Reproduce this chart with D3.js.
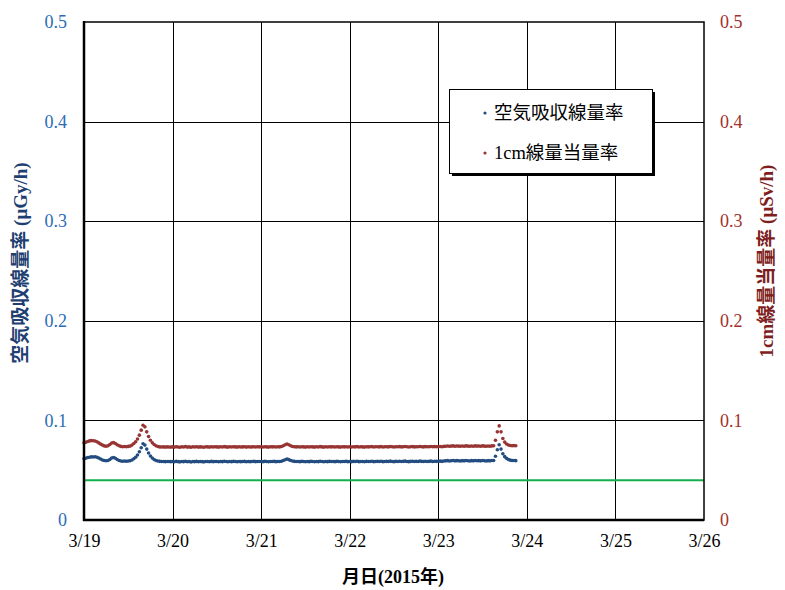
<!DOCTYPE html>
<html>
<head>
<meta charset="utf-8">
<script src="https://cdn.jsdelivr.net/npm/d3@7"></script>
<style>
  html, body { margin: 0; padding: 0; background: #fff; }
  svg { display: block; }
</style>
</head>
<body>
<svg id="chart" width="785" height="590"></svg>
<script>
// ---------- DATA ----------
const seriesNames = ["空気吸収線量率", "1cm線量当量率"];
const startTime = "2015-03-19T00:00:00";
const stepMinutes = 30;

// 空気吸収線量率 (μGy/h), every 30 minutes from 3/19 00:00 to 3/23 21:00
const airDoseRate = [
  // 3/19
  0.0615,0.0620,0.0628,0.0630,0.0634,0.0632,0.0635,0.0630,0.0622,0.0612,0.0603,0.0597,
  0.0595,0.0598,0.0608,0.0622,0.0628,0.0620,0.0608,0.0598,0.0592,0.0590,0.0592,0.0590,
  0.0593,0.0595,0.0602,0.0615,0.0630,0.0652,0.0685,0.0725,0.0765,0.0752,0.0712,0.0672,
  0.0642,0.0622,0.0608,0.0598,0.0592,0.0589,0.0587,0.0588,0.0586,0.0588,0.0587,0.0586,
  // 3/20
  0.0587,0.0585,0.0589,0.0586,0.0584,0.0588,0.0586,0.0590,0.0585,0.0587,0.0583,0.0588,
  0.0586,0.0589,0.0585,0.0587,0.0586,0.0584,0.0588,0.0587,0.0585,0.0589,0.0586,0.0588,
  0.0587,0.0585,0.0588,0.0586,0.0590,0.0587,0.0585,0.0588,0.0586,0.0589,0.0587,0.0585,
  0.0588,0.0586,0.0587,0.0589,0.0585,0.0588,0.0586,0.0587,0.0589,0.0586,0.0588,0.0587,
  // 3/21
  0.0588,0.0586,0.0589,0.0587,0.0585,0.0588,0.0587,0.0589,0.0586,0.0588,0.0587,0.0590,
  0.0597,0.0605,0.0612,0.0606,0.0598,0.0592,0.0589,0.0587,0.0588,0.0586,0.0589,0.0587,
  0.0585,0.0588,0.0586,0.0589,0.0587,0.0585,0.0588,0.0586,0.0590,0.0587,0.0585,0.0588,
  0.0586,0.0589,0.0587,0.0588,0.0586,0.0589,0.0587,0.0585,0.0588,0.0587,0.0589,0.0586,
  // 3/22
  0.0588,0.0586,0.0589,0.0587,0.0590,0.0586,0.0588,0.0587,0.0585,0.0589,0.0587,0.0588,
  0.0590,0.0586,0.0588,0.0589,0.0587,0.0590,0.0586,0.0588,0.0589,0.0587,0.0591,0.0588,
  0.0586,0.0589,0.0588,0.0590,0.0587,0.0589,0.0591,0.0588,0.0586,0.0589,0.0590,0.0587,
  0.0589,0.0588,0.0591,0.0589,0.0587,0.0590,0.0588,0.0589,0.0591,0.0588,0.0590,0.0589,
  // 3/23
  0.0590,0.0591,0.0589,0.0592,0.0594,0.0596,0.0593,0.0595,0.0597,0.0594,0.0596,0.0595,
  0.0593,0.0596,0.0594,0.0597,0.0595,0.0593,0.0596,0.0594,0.0597,0.0595,0.0596,0.0594,
  0.0597,0.0595,0.0593,0.0596,0.0594,0.0597,0.0598,0.0640,0.0705,0.0755,0.0712,0.0665,
  0.0636,0.0619,0.0607,0.0601,0.0598,0.0597,0.0596
];

// 1cm線量当量率 (μSv/h), same times
const doseEquivRate = [
  // 3/19
  0.0776,0.0780,0.0788,0.0794,0.0797,0.0795,0.0793,0.0785,0.0774,0.0762,0.0752,0.0744,
  0.0740,0.0745,0.0758,0.0772,0.0777,0.0768,0.0755,0.0745,0.0739,0.0736,0.0738,0.0736,
  0.0739,0.0742,0.0752,0.0768,0.0786,0.0814,0.0852,0.0902,0.0952,0.0935,0.0885,0.0838,
  0.0801,0.0776,0.0758,0.0746,0.0738,0.0734,0.0733,0.0734,0.0732,0.0734,0.0733,0.0732,
  // 3/20
  0.0734,0.0732,0.0736,0.0733,0.0731,0.0735,0.0733,0.0737,0.0732,0.0734,0.0730,0.0735,
  0.0733,0.0736,0.0732,0.0734,0.0733,0.0731,0.0735,0.0734,0.0732,0.0736,0.0733,0.0735,
  0.0734,0.0732,0.0735,0.0733,0.0737,0.0734,0.0732,0.0735,0.0733,0.0736,0.0734,0.0732,
  0.0735,0.0733,0.0734,0.0736,0.0732,0.0735,0.0733,0.0734,0.0736,0.0733,0.0735,0.0734,
  // 3/21
  0.0735,0.0733,0.0736,0.0734,0.0732,0.0735,0.0734,0.0736,0.0733,0.0735,0.0734,0.0738,
  0.0745,0.0755,0.0763,0.0755,0.0745,0.0738,0.0736,0.0734,0.0735,0.0733,0.0736,0.0734,
  0.0732,0.0735,0.0733,0.0736,0.0734,0.0732,0.0735,0.0733,0.0737,0.0734,0.0732,0.0735,
  0.0733,0.0736,0.0734,0.0735,0.0733,0.0736,0.0734,0.0732,0.0735,0.0734,0.0736,0.0733,
  // 3/22
  0.0735,0.0733,0.0736,0.0734,0.0737,0.0733,0.0735,0.0734,0.0732,0.0736,0.0734,0.0735,
  0.0737,0.0733,0.0735,0.0736,0.0734,0.0737,0.0733,0.0735,0.0736,0.0734,0.0738,0.0735,
  0.0733,0.0736,0.0735,0.0737,0.0734,0.0736,0.0738,0.0735,0.0733,0.0736,0.0737,0.0734,
  0.0736,0.0735,0.0738,0.0736,0.0734,0.0737,0.0735,0.0736,0.0738,0.0735,0.0737,0.0736,
  // 3/23
  0.0737,0.0738,0.0736,0.0739,0.0741,0.0743,0.0740,0.0742,0.0744,0.0741,0.0743,0.0742,
  0.0740,0.0743,0.0741,0.0744,0.0742,0.0740,0.0743,0.0741,0.0744,0.0742,0.0743,0.0741,
  0.0744,0.0742,0.0740,0.0743,0.0741,0.0744,0.0745,0.0800,0.0885,0.0945,0.0885,0.0818,
  0.0782,0.0763,0.0753,0.0748,0.0746,0.0747,0.0746
];

// green reference line
const refLineDates = ["2015-03-19T00:00:00", "2015-03-26T00:00:00"];
const refLineValues = [0.04, 0.04];

const xTickDates = ["2015-03-19","2015-03-20","2015-03-21","2015-03-22","2015-03-23","2015-03-24","2015-03-25","2015-03-26"];
const yTickValues = [0, 0.1, 0.2, 0.3, 0.4, 0.5];
const leftAxisTitle = "空気吸収線量率 (μGy/h)";
const rightAxisTitle = "1cm線量当量率 (μSv/h)";
const xAxisTitle = "月日(2015年)";

// ---------- CHART ----------
const FONT = "'Liberation Serif', 'Times New Roman', 'DejaVu Serif', 'Noto Sans CJK JP', serif";
const svg = d3.select("#chart");
const plot = { left: 84, right: 704, top: 22, bottom: 520 };

const parseT = d3.isoParse;
const t0 = parseT(startTime);
const timeAt = i => new Date(t0.getTime() + i * stepMinutes * 60000);

const x = d3.scaleTime()
  .domain([parseT(xTickDates[0] + "T00:00:00"), parseT(xTickDates[xTickDates.length - 1] + "T00:00:00")])
  .range([plot.left, plot.right]);
const yL = d3.scaleLinear().domain([0, 0.5]).range([plot.bottom, plot.top]);
const yR = d3.scaleLinear().domain([0, 0.5]).range([plot.bottom, plot.top]);

const colors = {
  blue: "#234D80",
  red: "#973533",
  green: "#12B04C",
  leftTick: "#2B6CB5",
  leftTitle: "#1F3F72",
  rightTick: "#A3312B",
  rightTitle: "#7E1E1E"
};

// grid lines
const grid = svg.append("g");
grid.selectAll("line.h").data(yTickValues.slice(1, -1)).join("line")
  .attr("x1", plot.left).attr("x2", plot.right)
  .attr("y1", d => Math.round(yL(d)) + 0.5).attr("y2", d => Math.round(yL(d)) + 0.5)
  .attr("stroke", "#000").attr("stroke-width", 1);
grid.selectAll("line.v").data(xTickDates.slice(1, -1)).join("line")
  .attr("x1", d => Math.round(x(parseT(d + "T00:00:00"))) + 0.5)
  .attr("x2", d => Math.round(x(parseT(d + "T00:00:00"))) + 0.5)
  .attr("y1", plot.top).attr("y2", plot.bottom)
  .attr("stroke", "#000").attr("stroke-width", 1);

// reference green line
const refData = refLineDates.map((d, i) => ({ t: parseT(d), v: refLineValues[i] }));
svg.append("path")
  .datum(refData)
  .attr("d", d3.line().x(d => x(d.t)).y(d => yL(d.v)))
  .attr("stroke", colors.green).attr("stroke-width", 2).attr("fill", "none");

// series points
const blueData = airDoseRate.map((v, i) => ({ t: timeAt(i), v }));
const redData = doseEquivRate.map((v, i) => ({ t: timeAt(i), v }));

svg.append("g").selectAll("circle").data(redData).join("circle")
  .attr("cx", d => x(d.t)).attr("cy", d => yR(d.v)).attr("r", 1.8)
  .attr("fill", colors.red);
svg.append("g").selectAll("circle").data(blueData).join("circle")
  .attr("cx", d => x(d.t)).attr("cy", d => yL(d.v)).attr("r", 1.8)
  .attr("fill", colors.blue);

// frame
svg.append("rect")
  .attr("x", plot.left).attr("y", plot.top)
  .attr("width", plot.right - plot.left).attr("height", plot.bottom - plot.top)
  .attr("fill", "none").attr("stroke", "#000").attr("stroke-width", 1.5);
svg.append("line").attr("x1", plot.left).attr("x2", plot.left)
  .attr("y1", plot.top - 1).attr("y2", plot.bottom + 1)
  .attr("stroke", "#000").attr("stroke-width", 2.5);
svg.append("line").attr("x1", plot.left - 1).attr("x2", plot.right)
  .attr("y1", plot.bottom).attr("y2", plot.bottom)
  .attr("stroke", "#000").attr("stroke-width", 2.5);

// axes (labels only, no tick marks)
const fmtY = d => d === 0 ? "0" : d3.format(".1f")(d);
const axL = svg.append("g").attr("transform", `translate(${plot.left},0)`)
  .call(d3.axisLeft(yL).tickValues(yTickValues).tickFormat(fmtY).tickSize(0).tickPadding(17));
axL.select(".domain").remove();
axL.selectAll("text").style("font-size", "18px").style("font-family", FONT).attr("fill", colors.leftTick);

const axR = svg.append("g").attr("transform", `translate(${plot.right},0)`)
  .call(d3.axisRight(yR).tickValues(yTickValues).tickFormat(fmtY).tickSize(0).tickPadding(16));
axR.select(".domain").remove();
axR.selectAll("text").style("font-size", "18px").style("font-family", FONT).attr("fill", colors.rightTick);

const fmtX = d3.timeFormat("%-m/%-d");
const axB = svg.append("g").attr("transform", `translate(0,${plot.bottom})`)
  .call(d3.axisBottom(x).tickValues(xTickDates.map(d => parseT(d + "T00:00:00"))).tickFormat(fmtX).tickSize(0).tickPadding(14));
axB.select(".domain").remove();
axB.selectAll("text").style("font-size", "18px").style("font-family", FONT).attr("fill", "#000");

// axis titles
svg.append("text")
  .attr("transform", "translate(27,263) rotate(-90)")
  .attr("text-anchor", "middle")
  .style("font-family", FONT).style("font-size", "19px").style("font-weight", "bold")
  .attr("fill", colors.leftTitle)
  .text(leftAxisTitle);

svg.append("text")
  .attr("transform", "translate(773,261) rotate(-90)")
  .attr("text-anchor", "middle")
  .style("font-family", FONT).style("font-size", "19px").style("font-weight", "bold")
  .attr("fill", colors.rightTitle)
  .text(rightAxisTitle);

svg.append("text")
  .attr("x", 393).attr("y", 583)
  .attr("text-anchor", "middle")
  .style("font-family", FONT).style("font-size", "18px").style("font-weight", "bold")
  .attr("fill", "#000")
  .text(xAxisTitle);

// legend
const lg = svg.append("g");
lg.append("rect").attr("x", 452).attr("y", 92).attr("width", 203).attr("height", 84).attr("fill", "#000");
lg.append("rect").attr("x", 449.5).attr("y", 89.5).attr("width", 203).attr("height", 84)
  .attr("fill", "#fff").attr("stroke", "#000").attr("stroke-width", 1);
const legendItems = [
  { name: seriesNames[0], color: colors.blue, y: 113 },
  { name: seriesNames[1], color: colors.red, y: 153 }
];
legendItems.forEach(it => {
  lg.append("circle").attr("cx", 485).attr("cy", it.y).attr("r", 1.6).attr("fill", it.color);
  lg.append("text").attr("x", 494).attr("y", it.y).attr("dy", "0.35em")
    .style("font-family", FONT).style("font-size", "18.5px").attr("fill", "#000").text(it.name);
});
</script>
</body>
</html>
